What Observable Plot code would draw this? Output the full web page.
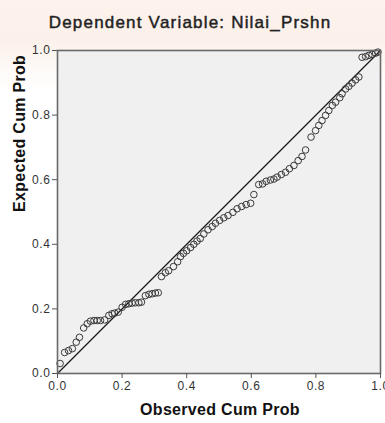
<!DOCTYPE html>
<html>
<head>
<meta charset="utf-8">
<script src="https://cdn.jsdelivr.net/npm/d3@7"></script>
<script src="https://cdn.jsdelivr.net/npm/@observablehq/plot@0.6"></script>
<style>
  html, body { margin: 0; padding: 0; background: #ffffff; }
  #chart { width: 385px; height: 423px; background: linear-gradient(#fdf3ec 0px, #fbf1ea 40px, #ffffff 90px); }
  svg { display: block; }
</style>
</head>
<body>
<div id="chart"></div>
<script>
const title = "Dependent Variable: Nilai_Prshn";
const xLabel = "Observed Cum Prob";
const yLabel = "Expected Cum Prob";
const tickValues = [0, 0.2, 0.4, 0.6, 0.8, 1.0];
const refLine = [0, 1];

const observed = [
  0.008, 0.022, 0.034, 0.046, 0.058, 0.068, 0.081, 0.092, 0.102, 0.113,
  0.123, 0.133, 0.146, 0.159, 0.169, 0.177, 0.188, 0.200, 0.211, 0.221,
  0.231, 0.241, 0.252, 0.260, 0.272, 0.283, 0.293, 0.303, 0.312, 0.322,
  0.334, 0.344, 0.359, 0.372, 0.381, 0.390, 0.400, 0.412, 0.422, 0.432,
  0.442, 0.453, 0.466, 0.479, 0.489, 0.502, 0.515, 0.528, 0.543, 0.556,
  0.570, 0.584, 0.598, 0.608, 0.623, 0.635, 0.646, 0.659, 0.670, 0.680,
  0.693, 0.706, 0.718, 0.732, 0.745, 0.757, 0.768, 0.785, 0.799, 0.809,
  0.819, 0.830, 0.840, 0.851, 0.861, 0.874, 0.881, 0.892, 0.902, 0.912,
  0.923, 0.933, 0.943, 0.954, 0.964, 0.974, 0.985, 0.992
];
const expected = [
  0.031, 0.065, 0.071, 0.077, 0.097, 0.112, 0.141, 0.154, 0.162, 0.164,
  0.164, 0.164, 0.166, 0.180, 0.185, 0.187, 0.190, 0.205, 0.214, 0.216,
  0.218, 0.219, 0.219, 0.221, 0.241, 0.245, 0.247, 0.249, 0.250, 0.300,
  0.312, 0.318, 0.331, 0.346, 0.362, 0.372, 0.380, 0.390, 0.400, 0.410,
  0.418, 0.432, 0.445, 0.455, 0.465, 0.474, 0.482, 0.489, 0.499, 0.510,
  0.517, 0.523, 0.527, 0.554, 0.585, 0.587, 0.595, 0.599, 0.602, 0.608,
  0.616, 0.623, 0.634, 0.644, 0.659, 0.672, 0.692, 0.732, 0.752, 0.768,
  0.783, 0.799, 0.814, 0.830, 0.840, 0.854, 0.866, 0.881, 0.889, 0.899,
  0.909, 0.918, 0.979, 0.981, 0.985, 0.988, 0.992, 0.995
];

const points = observed.map((o, i) => ({obs: o, exp: expected[i]}));
const font = "Liberation Sans, Arial, Helvetica, sans-serif";

const chart = Plot.plot({
  width: 385,
  height: 423,
  marginLeft: 57,
  marginRight: 5,
  marginTop: 50,
  marginBottom: 50,
  style: {fontFamily: font, fontSize: "12px", background: "transparent", color: "#333"},
  x: {domain: [0, 1]},
  y: {domain: [0, 1]},
  marks: [
    Plot.frame({fill: "#f0f0f0", stroke: "none"}),
    Plot.line(refLine, {x: d => d, y: d => d, stroke: "#1a1a1a", strokeWidth: 1.3}),
    Plot.dot(points, {x: "obs", y: "exp", r: 3.3, stroke: "#3a3a3a", strokeWidth: 1, fill: "none"}),
    Plot.frame({stroke: "#6a6a6a", strokeWidth: 1.6}),
    Plot.axisX({ticks: tickValues, tickFormat: d3.format(".1f"), tickSize: 5, tickPadding: 3, stroke: "#555", label: null, fontSize: 12}),
    Plot.axisY({ticks: tickValues, tickFormat: d3.format(".1f"), tickSize: 5, tickPadding: 2, stroke: "#555", label: null, fontSize: 12}),
    Plot.text([title], {text: d => d, frameAnchor: "top", dx: -29, dy: -28, lineAnchor: "middle", fontSize: 17, fontWeight: "normal", fill: "#222", stroke: "#222", strokeWidth: 0.45}),
    Plot.text([xLabel], {text: d => d, frameAnchor: "bottom", dx: 1, dy: 36, lineAnchor: "middle", fontSize: 16, fontWeight: "bold", fill: "#111"}),
    Plot.text([yLabel], {text: d => d, frameAnchor: "left", dx: -38, rotate: -90, lineAnchor: "middle", fontSize: 16, fontWeight: "bold", fill: "#111"})
  ]
});
document.getElementById("chart").appendChild(chart);
// loosen letter spacing to match reference glyph widths
d3.select(chart).selectAll("text").each(function() {
  const t = this.textContent;
  if (t === title) this.setAttribute("letter-spacing", "1.2");
  else if (t === xLabel || t === yLabel) this.setAttribute("letter-spacing", "0.3");
  else if (/^\d\.\d$/.test(t)) this.setAttribute("letter-spacing", "0.6");
});
</script>
</body>
</html>
